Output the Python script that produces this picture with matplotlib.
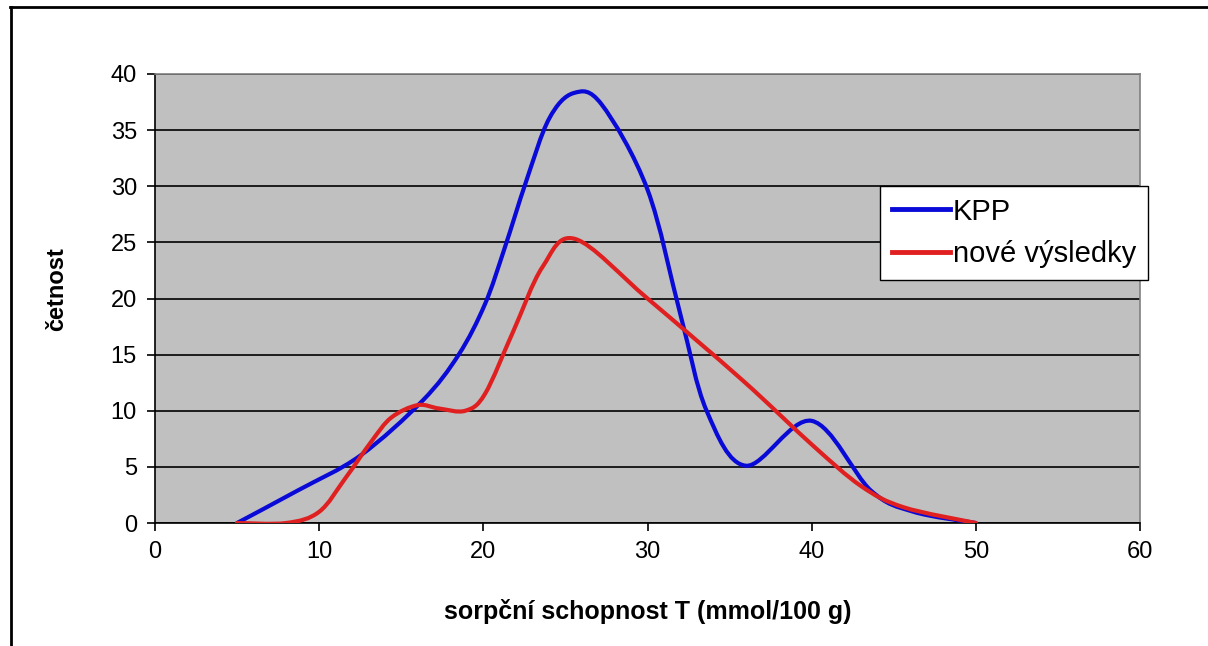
import numpy as np
import matplotlib.pyplot as plt
from matplotlib.path import Path
from matplotlib.patches import PathPatch
from matplotlib.lines import Line2D

plt.rcParams['font.family'] = ['Liberation Sans', 'DejaVu Sans']

# hodnoty
kpp_x = [5, 8.7, 12.5, 16.3, 18.5, 20.1, 21.3, 22.6, 24, 25.5, 27.2, 30, 32, 33.6, 36, 40, 43.6, 46.2, 50]
kpp_y = [0, 2.9, 6, 10.9, 15, 19.5, 24.5, 30.4, 36, 38.3, 37.3, 29.7, 18.6, 10, 5.1, 9.1, 2.9, 1, 0]

nove_x = [5, 8, 10, 11.6, 13.2, 14.4, 16, 17.3, 18.9, 20.1, 21.8, 23.6, 25.6, 30, 35.8, 40, 43, 45.6, 50]
nove_y = [0, 0, 1.0, 4, 7.3, 9.4, 10.5, 10.2, 10, 11.5, 17, 22.8, 25.3, 20, 12.7, 7, 3.3, 1.4, 0]

x_ticks = [0, 10, 20, 30, 40, 50, 60]
y_ticks = [0, 5, 10, 15, 20, 25, 30, 35, 40]

blue = '#0a0ad8'
red = '#e02020'


def smooth_path(xs, ys):
    # vyhlazena cara jako v Excelu (Bezierovy krivky)
    pts = np.column_stack([xs, ys]).astype(float)
    n = len(pts)
    verts = [pts[0]]
    codes = [Path.MOVETO]
    for i in range(n - 1):
        p0 = pts[i - 1] if i > 0 else pts[i]
        p1 = pts[i]
        p2 = pts[i + 1]
        p3 = pts[i + 2] if i + 2 < n else pts[i + 1]
        verts += [p1 + (p2 - p0) / 6, p2 - (p3 - p1) / 6, p2]
        codes += [Path.CURVE4] * 3
    return Path(verts, codes)


fig = plt.figure(figsize=(12.08, 6.46), dpi=100)
ax = fig.add_axes([155 / 1208, 1 - 523 / 646, 985 / 1208, 449 / 646])
ax.set_facecolor('#c0c0c0')
ax.set_xlim(0, 60)
ax.set_ylim(0, 40)
ax.set_xticks(x_ticks)
ax.set_yticks(y_ticks)
ax.tick_params(direction='out', length=6, width=1.2, color='black', labelsize=17)
ax.tick_params(axis='x', pad=7)
ax.tick_params(axis='y', pad=7)
ax.yaxis.grid(True, color='black', linewidth=1.2)
ax.set_axisbelow(True)
for s in ['top', 'right']:
    ax.spines[s].set_color('#808080')
    ax.spines[s].set_linewidth(1.2)
for s in ['left', 'bottom']:
    ax.spines[s].set_color('black')
    ax.spines[s].set_linewidth(1.2)

ax.add_patch(PathPatch(smooth_path(kpp_x, kpp_y), fill=False, edgecolor=blue,
                       linewidth=3, capstyle='round', joinstyle='round', zorder=3))
ax.add_patch(PathPatch(smooth_path(nove_x, nove_y), fill=False, edgecolor=red,
                       linewidth=3, capstyle='round', joinstyle='round', zorder=4))

handles = [Line2D([], [], color=blue, linewidth=3.5),
           Line2D([], [], color=red, linewidth=3.5)]
leg = ax.legend(handles, ['KPP', 'nové výsledky'], loc='upper left',
                bbox_to_anchor=((880 - 155) / 985, (523 - 186) / 449), borderaxespad=0,
                fontsize=21, frameon=True, fancybox=False, framealpha=1,
                handlelength=2.0, handletextpad=0.1, borderpad=0.4, labelspacing=0.5)
leg.get_frame().set_edgecolor('black')
leg.get_frame().set_linewidth(1.0)

fig.text((155 + 1140) / 2 / 1208, 1 - 612 / 646, 'sorpční schopnost T (mmol/100 g)',
         ha='center', va='center', fontsize=18, fontweight='bold')
fig.text(57 / 1208, 1 - 289 / 646, 'četnost', rotation=90,
         ha='center', va='center', fontsize=17, fontweight='bold')

# ramecek okolo grafu
fig.add_artist(Line2D([10 / 1208, 1], [1 - 7 / 646, 1 - 7 / 646], color='black', linewidth=2))
fig.add_artist(Line2D([11 / 1208, 11 / 1208], [1 - 7 / 646, 0], color='black', linewidth=2))

fig.savefig('out.png', dpi=100)
